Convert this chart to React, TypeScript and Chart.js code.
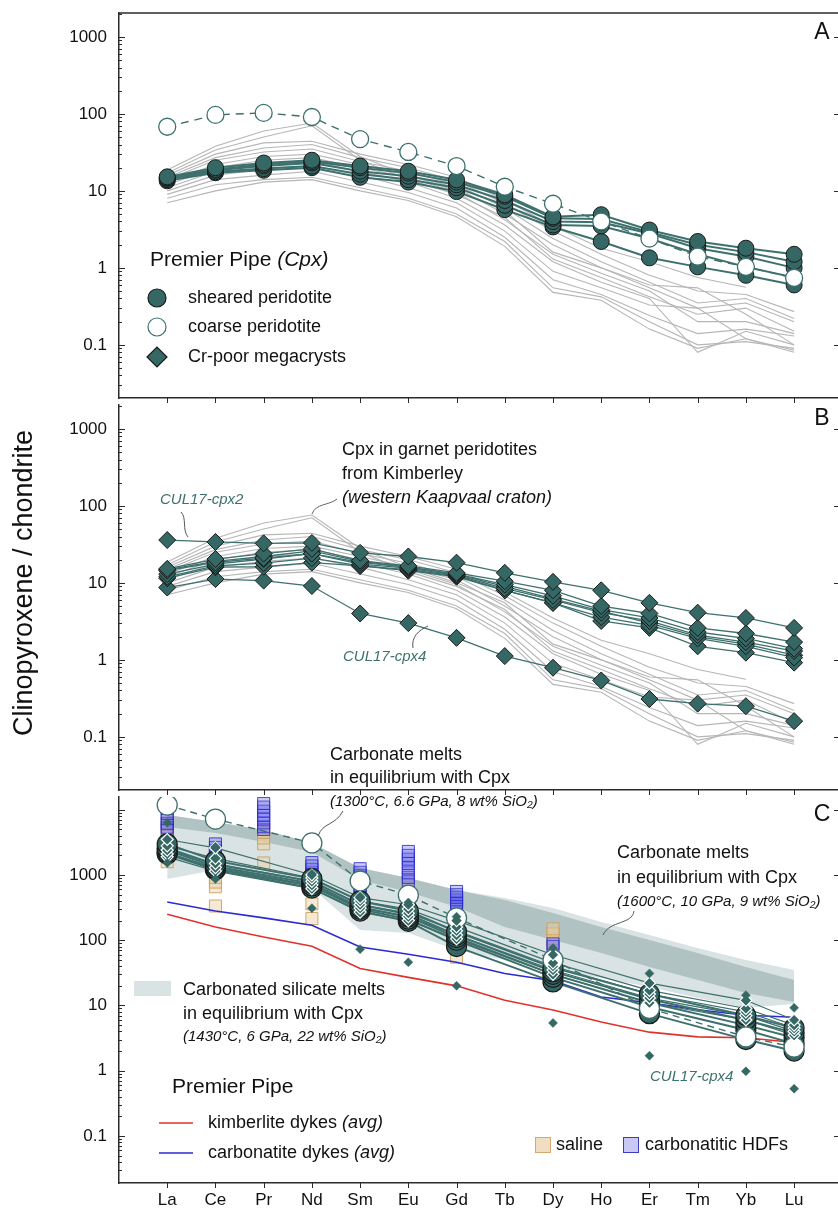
import React, { useEffect, useRef } from 'react';
import { Chart, registerables } from 'chart.js';

Chart.register(...registerables);

const W = 838;
const H = 1213;
const FONT = '"Liberation Sans", Arial, Helvetica, sans-serif';

// ---------------- data ----------------
const ELEMENTS = ['La', 'Ce', 'Pr', 'Nd', 'Sm', 'Eu', 'Gd', 'Tb', 'Dy', 'Ho', 'Er', 'Tm', 'Yb', 'Lu'];
const Y_LABELS = [0.1, 1, 10, 100, 1000];

// Cpx in garnet peridotites from Kimberley (grey, panels A & B)
const KIMBERLEY_CPX = [
  [18.6, 38, 60, 76, 28, 16, 10, 5.5, 1.6, 1.0, 0.55, 0.3, 0.35, 0.2],
  [17, 34, 50, 70, 25, 14, 9, 4.5, 1.3, 0.75, 0.42, 0.25, 0.3, 0.15],
  [16, 30, 42, 44, 30, 22, 15, 7.6, 3.5, 1.8, 1.2, 0.75, 0.56, null],
  [15, 27, 36, 40, 27, 20, 13.5, 6.8, 3.0, 1.5, 0.8, 0.5, 0.45, 0.27],
  [14, 25, 32, 35, 24, 18, 12, 6.0, 2.4, 1.2, 0.65, 0.35, 0.4, 0.22],
  [13, 22, 28, 30, 22, 16, 11, 5.0, 2.0, 1.0, 0.6, 0.55, 0.25, 0.1],
  [12, 20, 25, 27, 20, 15, 9.5, 4.2, 1.5, 0.85, 0.5, 0.2, 0.2, 0.14],
  [11, 18, 22, 24, 18, 13, 8, 3.6, 1.2, 0.65, 0.4, 0.08, 0.15, 0.1],
  [10, 16, 19, 21, 16, 11, 7, 3.0, 0.9, 0.55, 0.33, 0.3, 0.12, 0.08],
  [9, 14, 16, 18, 13, 9.5, 6, 2.5, 0.7, 0.45, 0.24, 0.14, 0.16, 0.13],
  [8, 12, 14, 15, 11, 8, 5, 2.2, 0.55, 0.42, 0.2, 0.1, 0.11, 0.09],
  [7, 10, 13, 14, 10, 7.5, 4.6, 1.9, 0.48, 0.38, 0.16, 0.09, 0.12, 0.085],
];

// Premier Pipe Cpx, panel A
const SHEARED_CPX = [
  [15.2, 20, 23, 25, 21, 18, 13.9, 8.9, 4.6, 4.9, 3.1, 2.2, 1.8, 1.5],
  [14.8, 19, 22, 24, 20, 17, 13, 8.5, 4.4, 4.3, 2.9, 2.0, 1.6, 1.2],
  [14.5, 18.5, 21, 23, 18, 15.5, 12, 7.5, 4.0, 3.9, 2.8, 1.8, 1.4, 1.0],
  [14, 17.7, 19.5, 21, 16.5, 14, 11, 6.5, 3.6, 3.5, 2.4, 1.5, 1.03, 0.75],
  [13.5, 17.2, 18.5, 20, 15, 13, 9.8, 5.7, 3.4, 2.2, 1.35, 1.03, 0.8, 0.6],
];
const COARSE_CPX = [68, 97, 103, 91, 47, 32, 21, 11.3, 6.8, 4.0, 2.4, 1.4, 1.03, 0.74];

// Cr-poor megacrysts, panel B
const MEGACRYST_CPX = [
  [36, 34, 32.6, 33, 24.5, 22, 18.3, 13.5, 10.3, 8, 5.5, 4.1, 3.5, 2.6],
  [15.2, 20.4, 24, 27.6, 19.5, 16.6, 13.5, 10.5, 8, 5.0, 4.0, 2.6, 2.2, 1.7],
  [14.4, 18.5, 21, 24, 18.5, 16, 13, 9.5, 6.8, 4.5, 3.5, 2.3, 1.9, 1.4],
  [13, 17.5, 20.4, 24, 17.5, 15.5, 12.5, 8.5, 6.0, 4.1, 3.2, 2.1, 1.7, 1.3],
  [12, 16.6, 18, 21, 16.6, 14.8, 12.3, 8.0, 5.5, 3.6, 2.8, 1.9, 1.5, 1.07],
  [11.5, 16, 16.2, 18.3, 16.6, 14.4, 12, 8.0, 5.5, 3.2, 2.6, 1.5, 1.24, 0.92],
  [8.7, 11.2, 10.7, 9.1, 4.0, 3.0, 1.93, 1.12, 0.79, 0.54, 0.31, 0.27, 0.25, 0.16],
  [14.8, 19, 22, 26, 19, 16, 12.8, 9.0, 6.2, 4.3, 3.0, 2.0, 1.6, 1.15],
];

// Panel C: calculated melts
const SHEARED_MELT = [
  [3000, 1650, null, 880, 400, 280, 135, null, 38, null, 15, null, 7, 4.5],
  [2600, 1450, null, 800, 350, 250, 120, null, 33, null, 12.5, null, 6, 3.8],
  [2400, 1350, null, 740, 320, 230, 110, null, 30, null, 11, null, 5, 3.2],
  [2200, 1250, null, 680, 300, 210, 100, null, 27, null, 9.5, null, 4.2, 2.6],
  [2100, 1200, null, 630, 280, 195, 80, null, 23, null, 7.5, null, 3.0, 2.0],
];
const COARSE_MELT = [11800, 7200, null, 3100, 810, 490, 220, null, 50, null, 9, null, 3.3, 2.3];
const MEGACRYST_MELT = [
  [3500, 2600, null, 1000, 450, 350, 200, null, 60, null, 22, null, 12, 6],
  [2800, 1800, null, 900, 400, 300, 160, null, 45, null, 17, null, 9, 5],
  [2400, 1500, null, 800, 350, 260, 140, null, 40, null, 15, null, 8, 4.5],
  [2100, 1300, null, 700, 310, 230, 120, null, 35, null, 13, null, 7, 4],
  [1900, 1150, null, 620, 270, 200, 105, null, 30, null, 11, null, 6, 3.5],
];
const CPX2_MELT = [6300, 2700, null, 1050, 470, 380, 230, null, 76, null, 31, null, 14.4, 9.2];
const CPX4_MELT = [1530, 870, null, 310, 73, 46, 20, null, 5.4, null, 1.7, null, 0.98, 0.53];

const KIMBERLITE_DYKES = [250, 160, 112, 81, 37, 27, 20, 12, 8.5, 5.6, 3.9, 3.3, 3.2, 2.7];
const CARBONATITE_DYKES = [385, 280, 220, 170, 79, 61, 46, 31, 24, 13.5, 11, 8.6, 7.1, 6.6];

// Carbonated silicate melts (1430 °C) band
const CARB_SILICATE_TOP = [8310, 6490, 4895, 3094, 1280, 900, 589, 444, 312, 190, 120, 76, 50, 35];
const CARB_SILICATE_BOTTOM = [868, 1193, 838, 632, 144, 129, 71, 50, 35, 26.4, 19.2, 13, 9.2, 10.5];
// Carbonate melts (1600 °C) band
const CARBONATE_TOP = [8310, 6490, 4895, 3094, 1280, 900, 589, 414, 262, 160, 101, 64, 39, 24.6];
const CARBONATE_BOTTOM = [5440, 4405, 3205, 2252, 838, 549, 324, 160, 101, 64, 39, 24.6, 15.6, 11.3];

// Diamond fluids (HDFs)
const HDF_CARBONATITIC = [
  [16000, 3000, 12500, 1550, 1250, 2300, 560, null, 88, null, null, null, null, null],
  [12500, 2650, 11000, 1380, 1100, 2000, 500, null, 80, null, null, null, null, null],
  [10500, 2350, 9500, 1220, 980, 1750, 455, null, null, null, null, null, null, null],
  [8800, 2100, 8200, 1080, 860, 1500, 415, null, null, null, null, null, null, null],
  [7300, 1900, 7200, 960, 760, 1280, 380, null, null, null, null, null, null, null],
  [6200, 1720, 6300, 850, 680, 1080, 350, null, null, null, null, null, null, null],
  [5400, 1560, 5500, 750, 600, 920, 330, null, null, null, null, null, null, null],
  [4900, null, 5000, 680, 540, 790, null, null, null, null, null, null, null, null],
];
const HDF_SALINE = [
  [6000, 1100, 4500, 920, null, 840, null, null, 150, null, null, null, null, null],
  [4200, 920, 3700, 780, null, null, null, null, 125, null, null, null, null, null],
  [3000, 780, 3000, 670, null, null, null, null, 105, null, null, null, null, null],
  [2100, 660, 1530, 360, null, null, 55, null, 92, null, null, null, null, null],
  [1600, 335, null, 215, null, null, null, null, null, null, null, null, null, null],
];

// ---------------- styles ----------------
const TEAL_FILL = '#356865';
const TEAL_LINE = '#3e716e';
const EDGE = '#1a1a1a';
const GRAY = '#b6b6b6';
const FRAME = '#2a2a2a';
const LIGHT_BAND = '#d9e3e3';
const DARK_BAND = '#b0c3c2';
const RED = '#e0322c';
const BLUE = '#2b2bcf';
const HDF_BLUE_FILL = 'rgba(105,105,235,0.35)';
const HDF_BLUE_EDGE = 'rgba(45,45,205,0.85)';
const HDF_TAN_FILL = 'rgba(236,206,160,0.45)';
const HDF_TAN_EDGE = 'rgba(205,160,95,0.9)';

const X_MIN = -1;
const X_MAX = 13.91;

// ---------------- helpers ----------------
const pts = (vals: (number | null)[]) => vals.map((v, i) => ({ x: i, y: v }));

function lineDs(vals, color, width, order, dash: number[] = []) {
  return {
    data: pts(vals), borderColor: color, borderWidth: width, borderDash: dash,
    pointRadius: 0, pointHoverRadius: 0, fill: false, spanGaps: true, tension: 0, order,
  };
}
function markDs(vals, style, radius, fillC, edgeC, edgeW, order) {
  return {
    data: pts(vals).filter((p) => p.y != null), showLine: false, pointStyle: style,
    pointRadius: radius, pointHoverRadius: radius, pointBackgroundColor: fillC,
    pointBorderColor: edgeC, pointBorderWidth: edgeW, backgroundColor: fillC, borderColor: edgeC, order,
  };
}
function bandDs(top, bottom, color, order) {
  return [
    { data: pts(top), fill: '+1', backgroundColor: color, borderColor: 'rgba(0,0,0,0)', borderWidth: 0, pointRadius: 0, order, tension: 0 },
    { data: pts(bottom), fill: false, borderColor: 'rgba(0,0,0,0)', borderWidth: 0, pointRadius: 0, order, tension: 0 },
  ];
}

type Part = [string, boolean?];
function drawText(ctx, x, y, parts: Part[], size: number, color = '#111', align = 'left') {
  ctx.save();
  ctx.textBaseline = 'middle';
  ctx.textAlign = 'left';
  ctx.fillStyle = color;
  const fonts = parts.map(([, it]) => `${it ? 'italic ' : ''}${size}px ${FONT}`);
  const widths = parts.map(([t], i) => { ctx.font = fonts[i]; return ctx.measureText(t).width; });
  const total = widths.reduce((a, b) => a + b, 0);
  let cx = align === 'center' ? x - total / 2 : align === 'right' ? x - total : x;
  parts.forEach(([t], i) => { ctx.font = fonts[i]; ctx.fillText(t, cx, y); cx += widths[i]; });
  ctx.restore();
}
function drawCurve(ctx, p: number[], color = '#555') {
  ctx.save();
  ctx.strokeStyle = color; ctx.lineWidth = 1;
  ctx.beginPath();
  ctx.moveTo(p[0], p[1]);
  ctx.bezierCurveTo(p[2], p[3], p[4], p[5], p[6], p[7]);
  ctx.stroke();
  ctx.restore();
}
function symCircle(ctx, x, y, r, fillC, edgeC) {
  ctx.save(); ctx.beginPath(); ctx.arc(x, y, r, 0, Math.PI * 2);
  ctx.fillStyle = fillC; ctx.fill(); ctx.lineWidth = 1.2; ctx.strokeStyle = edgeC; ctx.stroke(); ctx.restore();
}
function symDiamond(ctx, x, y, r, fillC, edgeC) {
  ctx.save(); ctx.beginPath();
  ctx.moveTo(x - r, y); ctx.lineTo(x, y - r); ctx.lineTo(x + r, y); ctx.lineTo(x, y + r); ctx.closePath();
  ctx.fillStyle = fillC; ctx.fill(); ctx.lineWidth = 1.2; ctx.strokeStyle = edgeC; ctx.stroke(); ctx.restore();
}
function symRect(ctx, x, y, w, h, fillC, edgeC) {
  ctx.save(); ctx.fillStyle = fillC; ctx.fillRect(x, y, w, h);
  if (edgeC) { ctx.strokeStyle = edgeC; ctx.lineWidth = 1; ctx.strokeRect(x + 0.5, y + 0.5, w - 1, h - 1); }
  ctx.restore();
}

function framePlugin(topBorder: boolean) {
  return {
    id: 'frameTicks',
    afterDraw(chart) {
      const { ctx, chartArea: a } = chart;
      const xs = chart.scales.x;
      const ys = chart.scales.y;
      ctx.save();
      ctx.strokeStyle = FRAME; ctx.lineWidth = 1;
      ctx.beginPath();
      for (let d = -2; d <= 4; d++) {
        for (let m = 1; m <= 9; m++) {
          const v = m * Math.pow(10, d);
          if (v < ys.min || v > ys.max) continue;
          const py = Math.round(ys.getPixelForValue(v)) + 0.5;
          const len = m === 1 ? 6 : 3;
          ctx.moveTo(a.left, py); ctx.lineTo(a.left + len, py);
          if (m === 1) { ctx.moveTo(a.right - 4, py); ctx.lineTo(a.right, py); }
        }
      }
      for (let i = 0; i < ELEMENTS.length; i++) {
        const px = Math.round(xs.getPixelForValue(i)) + 0.5;
        ctx.moveTo(px, a.bottom); ctx.lineTo(px, a.bottom + 5);
      }
      ctx.stroke();
      if (topBorder) {
        ctx.lineWidth = 1.5; ctx.beginPath();
        ctx.moveTo(a.left, a.top); ctx.lineTo(a.right, a.top); ctx.stroke();
      }
      ctx.restore();
    },
  };
}

function baseOptions(top: number, bottom: number, yMin: number, yMax: number, showX: boolean, xAxisH: number) {
  return {
    responsive: false,
    animation: false,
    devicePixelRatio: 1,
    events: [],
    layout: { autoPadding: false, padding: { top, bottom: H - bottom - xAxisH, left: 0, right: 0 } },
    plugins: {
      legend: { display: false },
      tooltip: { enabled: false },
      filler: { drawTime: 'beforeDatasetsDraw' },
    },
    scales: {
      x: {
        type: 'linear', min: X_MIN, max: X_MAX, position: 'bottom',
        afterFit: (s) => { s.height = xAxisH; s.paddingLeft = 0; s.paddingRight = 0; s.paddingTop = 0; s.paddingBottom = 0; },
        afterBuildTicks: (s) => { s.ticks = ELEMENTS.map((_, i) => ({ value: i })); },
        grid: { display: true, drawOnChartArea: false, drawTicks: false },
        border: { display: true, color: FRAME, width: 1.5 },
        ticks: {
          display: showX, autoSkip: false, maxRotation: 0, minRotation: 0, padding: 7, color: '#111',
          font: { family: FONT, size: 17 },
          callback: (v) => ELEMENTS[v] ?? '',
        },
      },
      y: {
        type: 'logarithmic', min: yMin, max: yMax, position: 'left',
        afterFit: (s) => { s.width = 119; s.paddingTop = 0; s.paddingBottom = 0; s.paddingLeft = 0; s.paddingRight = 0; },
        afterBuildTicks: (s) => { s.ticks = Y_LABELS.map((v) => ({ value: v })); },
        grid: { display: true, drawOnChartArea: false, drawTicks: false },
        border: { display: true, color: FRAME, width: 1.5 },
        ticks: {
          padding: 12, color: '#111', font: { family: FONT, size: 17 },
          callback: (v) => (Y_LABELS.includes(Number(v)) ? String(v) : ''),
        },
      },
    },
  };
}

// ---------------- panel A ----------------
function makeA() {
  const datasets: any[] = [];
  datasets.push(markDs(COARSE_CPX, 'circle', 8.5, '#ffffff', TEAL_LINE, 1.3, 0));
  SHEARED_CPX.forEach((s) => datasets.push(markDs(s, 'circle', 8, TEAL_FILL, EDGE, 1, 1)));
  datasets.push(lineDs(COARSE_CPX, TEAL_LINE, 1.4, 2, [8, 6]));
  SHEARED_CPX.forEach((s) => datasets.push(lineDs(s, TEAL_LINE, 2, 3)));
  KIMBERLEY_CPX.forEach((s) => datasets.push(lineDs(s, GRAY, 1.1, 4)));
  const annot = {
    id: 'annotA',
    afterDraw(chart) {
      const ctx = chart.ctx;
      drawText(ctx, 822, 33, [['A']], 23, '#111', 'center');
      drawText(ctx, 150, 260, [['Premier Pipe '], ['(Cpx)', true]], 21);
      symCircle(ctx, 157, 298, 9, TEAL_FILL, EDGE);
      drawText(ctx, 188, 298, [['sheared peridotite']], 18);
      symCircle(ctx, 157, 327, 9, '#ffffff', TEAL_LINE);
      drawText(ctx, 188, 327, [['coarse peridotite']], 18);
      symDiamond(ctx, 157, 357, 10, TEAL_FILL, EDGE);
      drawText(ctx, 188, 357, [['Cr-poor megacrysts']], 18);
    },
  };
  return {
    type: 'line',
    data: { datasets },
    options: baseOptions(13, 398, 0.0204, 2042, false, 10),
    plugins: [framePlugin(true), annot],
  };
}

// ---------------- panel B ----------------
function makeB() {
  const datasets: any[] = [];
  MEGACRYST_CPX.forEach((s) => datasets.push(markDs(s, 'rectRot', 8.5, TEAL_FILL, EDGE, 1, 0)));
  MEGACRYST_CPX.forEach((s) => datasets.push(lineDs(s, TEAL_LINE, 1.3, 1)));
  KIMBERLEY_CPX.forEach((s) => datasets.push(lineDs(s, GRAY, 1.1, 2)));
  const annot = {
    id: 'annotB',
    afterDraw(chart) {
      const ctx = chart.ctx;
      drawText(ctx, 822, 419, [['B']], 23, '#111', 'center');
      drawText(ctx, 342, 450, [['Cpx in garnet peridotites']], 18);
      drawText(ctx, 342, 474, [['from Kimberley']], 18);
      drawText(ctx, 342, 498, [['(western Kaapvaal craton)', true]], 18);
      drawCurve(ctx, [312, 514, 316, 503, 328, 506, 337, 499], '#666');
      drawText(ctx, 160, 500, [['CUL17-cpx2', true]], 15, '#3e716e');
      drawCurve(ctx, [181, 512, 187, 518, 182, 530, 188, 537], '#555');
      drawText(ctx, 343, 657, [['CUL17-cpx4', true]], 15, '#3e716e');
      drawCurve(ctx, [413, 648, 411, 637, 419, 630, 428, 626], '#555');
      // y-axis title
      ctx.save();
      ctx.translate(25, 583);
      ctx.rotate(-Math.PI / 2);
      drawText(ctx, 0, 0, [['Clinopyroxene / chondrite']], 27, '#111', 'center');
      ctx.restore();
    },
  };
  return {
    type: 'line',
    data: { datasets },
    options: baseOptions(405, 790, 0.0204, 2042, false, 10),
    plugins: [framePlugin(false), annot],
  };
}

// ---------------- panel C ----------------
function makeC() {
  const datasets: any[] = [];
  datasets.push(markDs(CPX2_MELT, 'rectRot', 4.5, TEAL_FILL, TEAL_FILL, 0.5, 0));
  datasets.push(markDs(CPX4_MELT, 'rectRot', 4.5, TEAL_FILL, TEAL_FILL, 0.5, 0));
  MEGACRYST_MELT.forEach((s) => datasets.push(markDs(s, 'rectRot', 6, TEAL_FILL, '#ffffff', 1.2, 1)));
  datasets.push(markDs(COARSE_MELT, 'circle', 10, '#ffffff', TEAL_LINE, 1.3, 2));
  SHEARED_MELT.forEach((s) => datasets.push(markDs(s, 'circle', 10, TEAL_FILL, EDGE, 1.2, 3)));
  datasets.push(lineDs(COARSE_MELT, TEAL_LINE, 1.4, 4, [7, 5]));
  MEGACRYST_MELT.forEach((s) => datasets.push(lineDs(s, TEAL_LINE, 1.2, 5)));
  SHEARED_MELT.forEach((s) => datasets.push(lineDs(s, TEAL_LINE, 2, 5)));
  datasets.push(lineDs(KIMBERLITE_DYKES, RED, 1.6, 6));
  datasets.push(lineDs(CARBONATITE_DYKES, BLUE, 1.6, 6));
  HDF_CARBONATITIC.forEach((s) => datasets.push(markDs(s, 'rect', 8.5, HDF_BLUE_FILL, HDF_BLUE_EDGE, 1, 7)));
  HDF_SALINE.forEach((s) => datasets.push(markDs(s, 'rect', 8.5, HDF_TAN_FILL, HDF_TAN_EDGE, 1, 8)));
  datasets.push(...bandDs(CARBONATE_TOP, CARBONATE_BOTTOM, DARK_BAND, 20));
  datasets.push(...bandDs(CARB_SILICATE_TOP, CARB_SILICATE_BOTTOM, LIGHT_BAND, 21));

  const annot = {
    id: 'annotC',
    afterDraw(chart) {
      const ctx = chart.ctx;
      drawText(ctx, 822, 815, [['C']], 23, '#111', 'center');
      drawText(ctx, 330, 755, [['Carbonate melts']], 18);
      drawText(ctx, 330, 778, [['in equilibrium with Cpx']], 18);
      drawText(ctx, 330, 802, [['(1300°C, 6.6 GPa, 8 wt% SiO₂)', true]], 15);
      drawCurve(ctx, [318, 836, 323, 822, 335, 826, 343, 811], '#555');
      drawText(ctx, 617, 853, [['Carbonate melts']], 18);
      drawText(ctx, 617, 878, [['in equilibrium with Cpx']], 18);
      drawText(ctx, 617, 902, [['(1600°C, 10 GPa, 9 wt% SiO₂)', true]], 15);
      drawCurve(ctx, [634, 911, 632, 925, 610, 920, 603, 935], '#555');
      symRect(ctx, 134, 981, 37, 15, LIGHT_BAND, null);
      drawText(ctx, 183, 990, [['Carbonated silicate melts']], 18);
      drawText(ctx, 183, 1014, [['in equilibrium with Cpx']], 18);
      drawText(ctx, 183, 1037, [['(1430°C, 6 GPa, 22 wt% SiO₂)', true]], 15);
      drawText(ctx, 172, 1087, [['Premier Pipe']], 21);
      ctx.save();
      ctx.lineWidth = 1.6;
      ctx.strokeStyle = RED; ctx.beginPath(); ctx.moveTo(159, 1123); ctx.lineTo(193, 1123); ctx.stroke();
      ctx.strokeStyle = BLUE; ctx.beginPath(); ctx.moveTo(159, 1153); ctx.lineTo(193, 1153); ctx.stroke();
      ctx.restore();
      drawText(ctx, 208, 1123, [['kimberlite dykes '], ['(avg)', true]], 18);
      drawText(ctx, 208, 1153, [['carbonatite dykes '], ['(avg)', true]], 18);
      drawText(ctx, 650, 1077, [['CUL17-cpx4', true]], 15, '#3e716e');
      symRect(ctx, 535, 1137, 16, 16, 'rgba(240,222,195,1)', '#d6aa6e');
      drawText(ctx, 556, 1145, [['saline']], 18);
      symRect(ctx, 623, 1137, 16, 16, '#c9c9f4', '#3a3ac4');
      drawText(ctx, 645, 1145, [['carbonatitic HDFs']], 18);
    },
  };
  return {
    type: 'line',
    data: { datasets },
    options: baseOptions(797, 1183, 0.019, 15700, true, 30),
    plugins: [framePlugin(false), annot],
  };
}

function Panel({ make }: { make: () => any }) {
  const ref = useRef<HTMLCanvasElement | null>(null);
  useEffect(() => {
    if (!ref.current) return;
    const chart = new Chart(ref.current, make());
    return () => chart.destroy();
  }, [make]);
  return (
    <canvas
      ref={ref}
      width={W}
      height={H}
      style={{ position: 'absolute', left: 0, top: 0, width: W, height: H }}
    />
  );
}

export default function App() {
  return (
    <div style={{ position: 'absolute', left: 0, top: 0, width: W, height: H, overflow: 'hidden', background: '#ffffff' }}>
      <Panel make={makeA} />
      <Panel make={makeB} />
      <Panel make={makeC} />
    </div>
  );
}
